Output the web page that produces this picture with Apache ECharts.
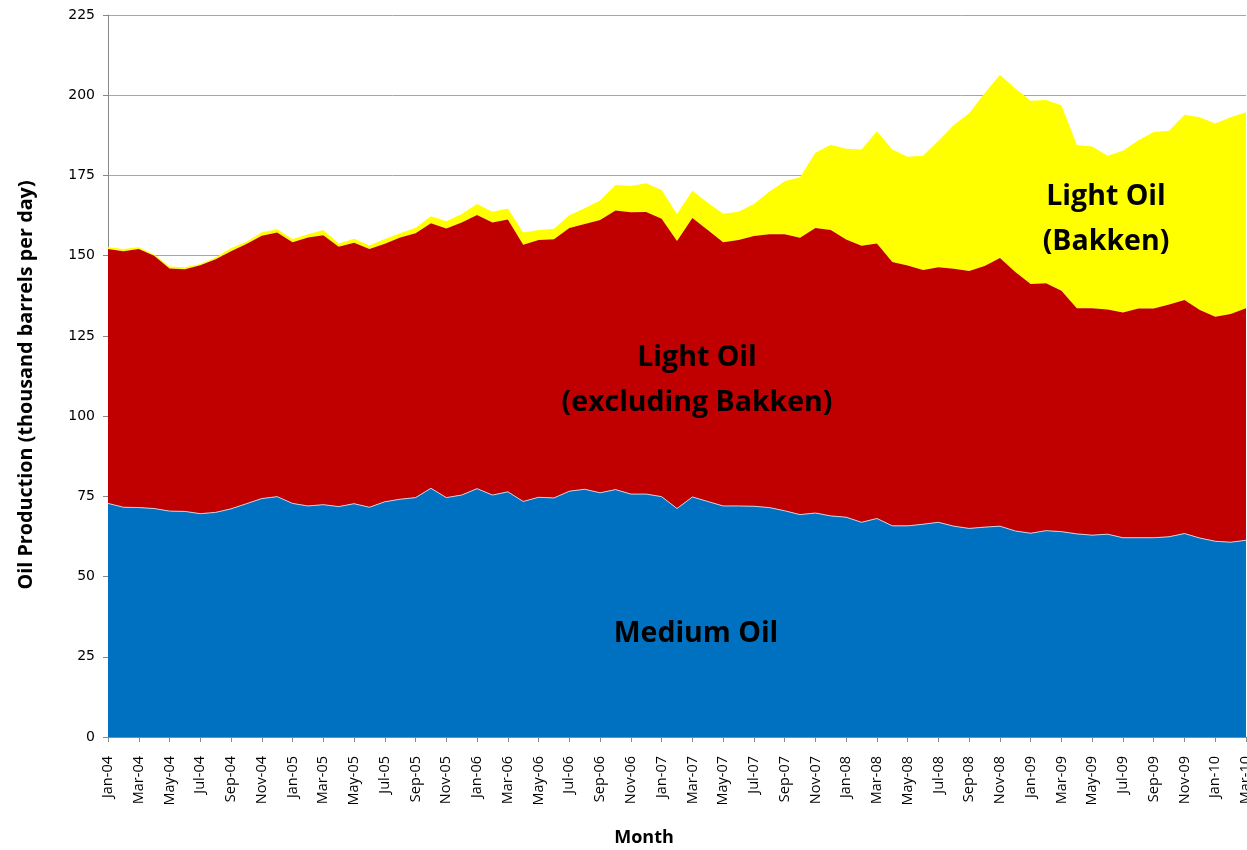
<!DOCTYPE html>
<html>
<head>
<meta charset="utf-8">
<title>Oil Production</title>
<script src="https://cdn.jsdelivr.net/npm/echarts@6/dist/echarts.min.js"></script>
<style>
  html, body { margin: 0; padding: 0; background: #fff; }
  #chart { width: 1247px; height: 850px; }
</style>
</head>
<body>
<div id="chart"></div>
<script>
const months = [
  'Jan-04','Feb-04','Mar-04','Apr-04','May-04','Jun-04','Jul-04','Aug-04','Sep-04','Oct-04','Nov-04','Dec-04',
  'Jan-05','Feb-05','Mar-05','Apr-05','May-05','Jun-05','Jul-05','Aug-05','Sep-05','Oct-05','Nov-05','Dec-05',
  'Jan-06','Feb-06','Mar-06','Apr-06','May-06','Jun-06','Jul-06','Aug-06','Sep-06','Oct-06','Nov-06','Dec-06',
  'Jan-07','Feb-07','Mar-07','Apr-07','May-07','Jun-07','Jul-07','Aug-07','Sep-07','Oct-07','Nov-07','Dec-07',
  'Jan-08','Feb-08','Mar-08','Apr-08','May-08','Jun-08','Jul-08','Aug-08','Sep-08','Oct-08','Nov-08','Dec-08',
  'Jan-09','Feb-09','Mar-09','Apr-09','May-09','Jun-09','Jul-09','Aug-09','Sep-09','Oct-09','Nov-09','Dec-09',
  'Jan-10','Feb-10','Mar-10'
]

// thousand barrels per day
const mediumOil = [
  72.8, 71.6, 71.5, 71.2, 70.4, 70.3, 69.6, 70.0, 71.1, 72.7,
  74.3, 74.9, 72.8, 72.0, 72.4, 71.8, 72.7, 71.6, 73.3, 74.1,
  74.6, 77.5, 74.6, 75.4, 77.4, 75.4, 76.4, 73.4, 74.7, 74.5,
  76.6, 77.2, 76.1, 77.1, 75.7, 75.7, 74.9, 71.2, 74.8, 73.4,
  72.0, 72.0, 71.9, 71.5, 70.5, 69.3, 69.8, 68.9, 68.5, 66.9,
  68.1, 65.8, 65.8, 66.3, 66.9, 65.7, 65.0, 65.4, 65.7, 64.2,
  63.5, 64.3, 64.0, 63.3, 62.9, 63.2, 62.1, 62.1, 62.1, 62.4,
  63.4, 62.0, 61.0, 60.7, 61.3
]
const lightOilExBakken = [
  79.3, 79.8, 80.6, 78.8, 75.6, 75.5, 77.4, 78.9, 80.3, 80.9,
  81.9, 82.3, 81.4, 83.7, 84.0, 81.0, 81.3, 80.5, 80.4, 81.6,
  82.4, 82.6, 83.9, 84.9, 85.3, 84.9, 84.9, 80.0, 80.2, 80.6,
  82.0, 82.7, 85.0, 87.0, 87.8, 87.9, 86.6, 83.4, 86.9, 84.6,
  82.2, 82.9, 84.2, 85.2, 86.2, 86.3, 88.8, 89.1, 86.5, 86.2,
  85.7, 82.2, 81.1, 79.2, 79.5, 80.2, 80.2, 81.4, 83.6, 80.7,
  77.7, 77.1, 75.1, 70.3, 70.7, 70.0, 70.2, 71.4, 71.4, 72.4,
  72.8, 71.1, 70.0, 71.1, 72.3
]
const lightOilBakken = [
  0.5, 0.7, 0.5, 0.4, 0.6, 0.6, 0.4, 0.5, 1.0, 0.7,
  1.1, 1.0, 1.0, 1.0, 1.6, 1.0, 1.3, 1.1, 1.5, 1.3,
  1.7, 2.2, 2.2, 2.7, 3.4, 3.4, 3.4, 3.8, 3.1, 3.3,
  4.0, 4.9, 6.1, 7.9, 8.2, 9.0, 9.0, 8.4, 8.5, 8.5,
  8.9, 8.8, 10.0, 13.2, 16.5, 18.8, 23.5, 26.6, 28.3, 30.0,
  35.0, 35.1, 33.9, 35.6, 39.4, 44.8, 49.2, 53.8, 57.1, 57.2,
  57.1, 57.1, 57.8, 50.9, 50.4, 47.9, 50.4, 52.5, 55.0, 54.1,
  57.7, 60.0, 60.2, 61.3, 61.1
]

let myChart = echarts.init(document.getElementById('chart'), null, {renderer: 'canvas'})

const labelFont = 'Open Sans'
const noteStyle = {
  fill: '#000',
  fontFamily: labelFont,
  fontWeight: 'bold',
  fontSize: 28.5,
  lineHeight: 45,
  textAlign: 'center',
  textVerticalAlign: 'middle'
}
const titleStyle = {
  fill: '#000',
  fontFamily: labelFont,
  fontWeight: 'bold',
  textAlign: 'center',
  textVerticalAlign: 'middle'
}

myChart.setOption({
  animation: false,
  backgroundColor: '#fff',
  grid: {
    left: 108,
    right: 1,
    top: 15,
    bottom: 113,
    containLabel: false,
    outerBoundsMode: 'none'
  },
  xAxis: {
    type: 'category',
    boundaryGap: false,
    data: months,
    axisLine: {lineStyle: {color: '#888', width: 1}},
    axisTick: {interval: 1, length: 5, lineStyle: {color: '#888'}},
    axisLabel: {
      interval: 1,
      rotate: 90,
      margin: 19,
      fontFamily: labelFont,
      fontSize: 14.5,
      color: '#000'
    },
    splitLine: {show: false}
  },
  yAxis: {
    type: 'value',
    min: 0,
    max: 225,
    interval: 25,
    axisLine: {show: true, lineStyle: {color: '#888', width: 1}},
    axisTick: {show: true, length: 5, lineStyle: {color: '#888'}},
    axisLabel: {
      margin: 13,
      fontFamily: 'DejaVu Sans',
      fontSize: 14,
      color: '#000'
    },
    splitLine: {lineStyle: {color: '#a6a6a6', width: 1}}
  },
  series: [
    {
      name: 'Medium Oil',
      type: 'line',
      stack: 'oil',
      data: mediumOil,
      symbol: 'none',
      lineStyle: {width: 1, color: '#c8cfdc'},
      areaStyle: {color: '#0070C0', opacity: 1},
      itemStyle: {color: '#0070C0'},
      z: 3
    },
    {
      name: 'Light Oil (excluding Bakken)',
      type: 'line',
      stack: 'oil',
      data: lightOilExBakken,
      symbol: 'none',
      lineStyle: {width: 0},
      areaStyle: {color: '#C00000', opacity: 1},
      itemStyle: {color: '#C00000'},
      z: 2
    },
    {
      name: 'Light Oil (Bakken)',
      type: 'line',
      stack: 'oil',
      data: lightOilBakken,
      symbol: 'none',
      lineStyle: {width: 0},
      areaStyle: {color: '#FFFF00', opacity: 1},
      itemStyle: {color: '#FFFF00'},
      z: 1
    }
  ],
  graphic: [
    {type: 'text', x: 696, y: 634, style: Object.assign({text: 'Medium Oil'}, noteStyle), z: 100},
    {type: 'text', x: 697, y: 380, style: Object.assign({text: 'Light Oil\n(excluding Bakken)'}, noteStyle), z: 100},
    {type: 'text', x: 1106, y: 219, style: Object.assign({text: 'Light Oil\n(Bakken)'}, noteStyle), z: 100},
    {type: 'text', x: 644, y: 838, style: Object.assign({text: 'Month', fontSize: 18}, titleStyle), z: 100},
    {
      type: 'text', x: 26, y: 385, rotation: Math.PI / 2,
      style: Object.assign({text: 'Oil Production (thousand barrels per day)', fontSize: 19.8}, titleStyle),
      z: 100
    }
  ]
})
</script>
</body>
</html>
